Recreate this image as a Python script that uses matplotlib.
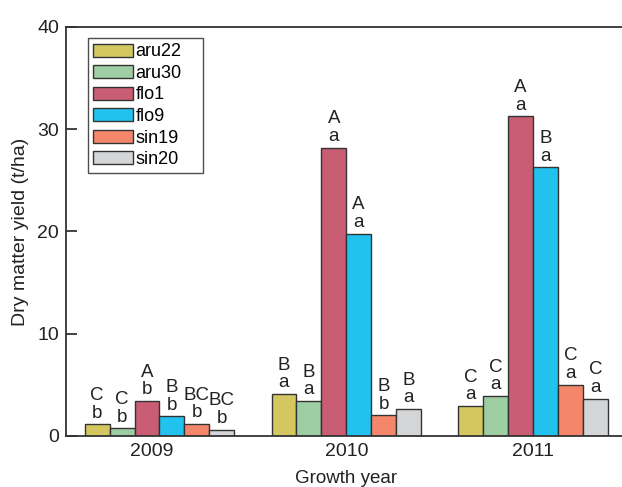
import numpy as np
import matplotlib
matplotlib.use('Agg')
import matplotlib.pyplot as plt
import matplotlib.transforms as mtransforms

plt.rcParams['font.family'] = ['Liberation Sans', 'DejaVu Sans']

years = ['2009', '2010', '2011']
genotypes = ['aru22', 'aru30', 'flo1', 'flo9', 'sin19', 'sin20']
colors = ['#d5c760', '#9dcda2', '#c95d74', '#22c2ef', '#f4876a', '#d4d5d7']

# dry matter yield (t/ha), one list per genotype over the years
aru22 = [1.14, 4.11, 2.92]
aru30 = [0.75, 3.40, 3.89]
flo1 = [3.40, 28.2, 31.25]
flo9 = [1.92, 19.8, 26.26]
sin19 = [1.17, 2.01, 5.03]
sin20 = [0.61, 2.63, 3.63]

# significance letters: upper = between genotypes, lower = between years
upper = [['C', 'B', 'C'], ['C', 'B', 'C'], ['A', 'A', 'A'],
         ['B', 'A', 'B'], ['BC', 'B', 'C'], ['BC', 'B', 'C']]
lower = [['b', 'a', 'a'], ['b', 'a', 'a'], ['b', 'a', 'a'],
         ['b', 'a', 'a'], ['b', 'b', 'a'], ['b', 'a', 'a']]

series = [aru22, aru30, flo1, flo9, sin19, sin20]

fig = plt.figure(figsize=(6.22, 4.87), dpi=100)
ax = fig.add_axes([66 / 622, 1 - 436 / 487, 560.5 / 622, 409 / 487])

x = np.arange(len(years))
w = 0.8 / len(genotypes)
for i, (name, vals) in enumerate(zip(genotypes, series)):
    pos = x - 0.4 + w * (i + 0.5)
    ax.bar(pos, vals, width=w, color=colors[i], edgecolor='#333333',
           linewidth=1.0, label=name)
    for j in range(len(years)):
        ax.annotate(upper[i][j] + '\n' + lower[i][j], (pos[j], vals[j]),
                    xytext=(0, 2), textcoords='offset points',
                    ha='center', va='bottom', fontsize=13.5,
                    linespacing=1.05, color='#222222')

ax.set_xlim(-0.5, 2.5)
ax.set_ylim(0, 40)
ax.set_yticks([0, 10, 20, 30, 40])
ax.set_xticks(x)
ax.set_xticklabels(years)
ax.tick_params(axis='x', length=0, labelsize=14, pad=5, colors='#222222')
ax.tick_params(axis='y', direction='in', length=8, width=1.2,
               labelsize=14, pad=5, colors='#222222')

# the 2009 label sits a little left of its group
lab = ax.get_xticklabels()[0]
lab.set_transform(lab.get_transform() +
                  mtransforms.ScaledTranslation(-8 / 100, 0, fig.dpi_scale_trans))

ax.spines['right'].set_visible(False)
for s in ['left', 'top', 'bottom']:
    ax.spines[s].set_linewidth(1.3)
    ax.spines[s].set_color('#333333')

ax.set_xlabel('Growth year', fontsize=13.5, labelpad=7, color='#222222')
ax.set_ylabel('Dry matter yield (t/ha)', fontsize=14, labelpad=6, color='#222222')

leg = ax.legend(loc='upper left', bbox_to_anchor=(0.039, 0.973, 0.205, 0.0),
                mode='expand',
                fontsize=13, frameon=True, fancybox=False, borderaxespad=0,
                handlelength=2.2, handleheight=0.75, handletextpad=0.15,
                labelspacing=0.25, borderpad=0.3)
leg.get_frame().set_edgecolor('#222222')
leg.get_frame().set_linewidth(1.0)

fig.savefig('out.png', dpi=100)
